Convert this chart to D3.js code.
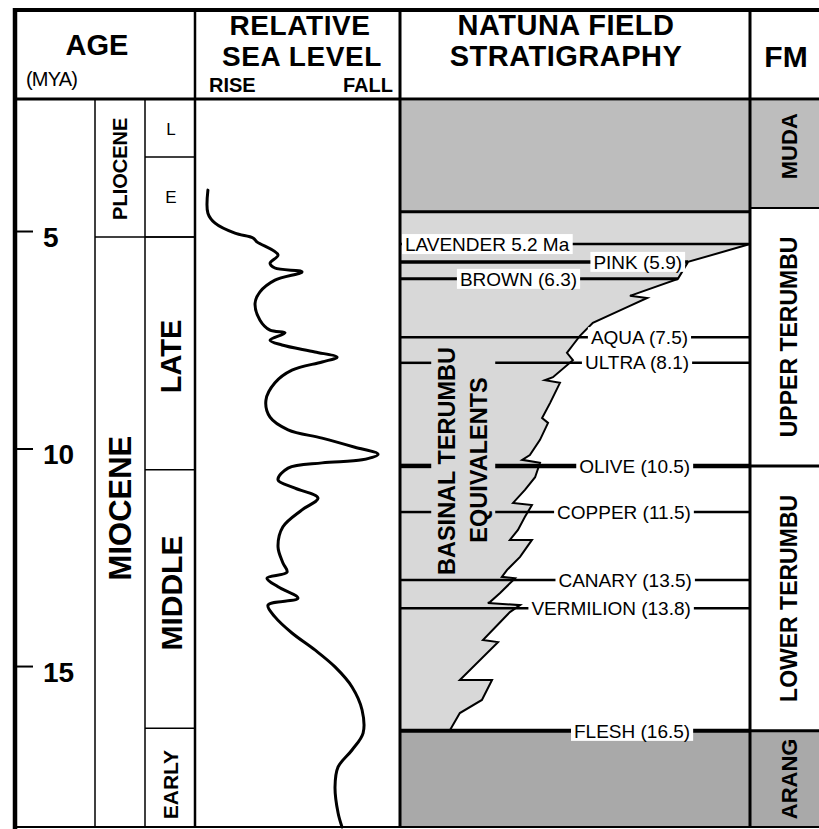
<!DOCTYPE html>
<html>
<head>
<meta charset="utf-8">
<script src="https://cdn.jsdelivr.net/npm/d3@7"></script>
<style>
  body { margin: 0; background: #fff; }
  svg { display: block; font-family: "Liberation Sans", Arial, Helvetica, sans-serif; }
</style>
</head>
<body>
<div id="chart"></div>
<script>
// Age scale (Ma)
var ageTicks = [5, 10, 15];
var ageTop = 2.0, ageBase = 18.7;

var epochNames = ["PLIOCENE", "MIOCENE"];
var epochTop = [2.0, 5.14];
var epochBase = [5.14, 18.7];

var subNames = ["L", "E", "LATE", "MIDDLE", "EARLY"];
var subTop = [2.0, 3.30, 5.14, 10.49, 16.43];
var subBase = [3.30, 5.14, 10.49, 16.43, 18.7];

// Relative sea level curve: age (Ma) and level (0 = rise side, 100 = fall side)
var seaAge = [4.06, 4.59, 4.82, 5.05, 5.16, 5.25, 5.55, 5.74, 5.85, 5.94,
              6.13, 6.40, 6.66, 7.05, 7.28, 7.34, 7.51, 7.62, 7.78, 7.90,
              8.01, 8.20, 8.49, 8.89, 9.28, 9.57, 9.76, 9.97, 10.13, 10.26,
              10.33, 10.45, 10.72, 10.91, 11.14, 11.41, 11.80, 12.26, 12.63, 12.84,
              12.98, 13.18, 13.44, 13.60, 13.87, 14.24, 14.63, 15.02, 15.48, 16.01,
              16.54, 16.93, 17.32, 17.78, 18.38, 18.70];
var seaLevel = [6.3, 6.3, 9.8, 19.5, 28.3, 30.2, 40.5, 36.6, 39.0, 52.2,
                39.0, 31.7, 29.3, 31.7, 36.6, 43.9, 36.6, 42.4, 58.5, 69.3,
                62.0, 47.3, 39.0, 34.6, 36.6, 45.4, 62.0, 78.0, 89.3, 81.5,
                62.0, 45.4, 40.5, 48.8, 60.0, 52.2, 42.9, 40.5, 42.9, 44.9,
                35.1, 40.5, 50.2, 35.6, 39.0, 47.3, 58.5, 68.3, 76.6, 81.5,
                82.0, 76.6, 69.8, 68.3, 69.8, 71.7];

// Natuna field horizons
var horizonNames = ["LAVENDER 5.2 Ma", "PINK (5.9)", "BROWN (6.3)", "AQUA (7.5)", "ULTRA (8.1)",
                    "OLIVE (10.5)", "COPPER (11.5)", "CANARY (13.5)", "VERMILION (13.8)", "FLESH (16.5)"];
var horizonAge = [5.30, 5.71, 6.10, 7.44, 8.03, 10.40, 11.46, 13.02, 13.67, 16.49];
var horizonReach = ["full", "facies", "facies", "full", "full", "full", "full", "full", "full", "full"];

// Facies boundary (basinal equivalents | platform): age and position across the column (0..1)
var faciesAge = [5.30, 5.71, 6.10, 6.49, 6.54, 6.75, 7.11, 7.41, 7.62, 7.80,
                 7.97, 8.36, 8.43, 8.49, 8.95, 9.30, 9.41, 9.80, 10.15, 10.26,
                 10.33, 10.66, 10.95, 11.25, 11.30, 11.57, 11.87, 12.10, 12.10, 12.49,
                 12.79, 12.95, 12.98, 13.32, 13.53, 13.55, 13.60, 13.76, 14.40, 14.45,
                 15.32, 15.32, 15.78, 16.08, 16.47];
var faciesPos = [1.000, 0.823, 0.794, 0.657, 0.706, 0.649, 0.551, 0.514, 0.494, 0.477,
                 0.494, 0.437, 0.414, 0.457, 0.429, 0.406, 0.423, 0.400, 0.371, 0.349,
                 0.400, 0.386, 0.357, 0.323, 0.377, 0.357, 0.337, 0.314, 0.377, 0.343,
                 0.306, 0.291, 0.329, 0.286, 0.257, 0.251, 0.343, 0.314, 0.237, 0.280,
                 0.171, 0.263, 0.234, 0.171, 0.143];
var stratMudaBase = 4.56;

// Formations
var fmNames = ["MUDA", "UPPER TERUMBU", "LOWER TERUMBU", "ARANG"];
var fmTop = [2.0, 4.47, 10.40, 16.49];
var fmBase = [4.47, 10.40, 16.49, 18.7];

// ---------- layout ----------
var W = 819, H = 829;
var xLeft = 15, xEpoch = 95, xSub = 145, xSea = 195, xStratL = 400, xFm = 750, xRight = 819;
var yTop = 10, yHead = 99, yBottom = 827;
var mudaGrey = "#bdbdbd", basinGrey = "#d8d8d8", arangGrey = "#a9a9a9";

var svg = d3.select("#chart").append("svg")
  .attr("width", W)
  .attr("height", H);

var y = d3.scaleLinear().domain([ageTop, ageBase]).range([100.5, 827]);
var xs = d3.scaleLinear().domain([0, 100]).range([xSea, xStratL]);
var xst = d3.scaleLinear().domain([0, 1]).range([xStratL, xFm]);

var shadeLayer = svg.append("g");
var lineLayer = svg.append("g");
var faciesLayer = svg.append("g");
var textLayer = svg.append("g");
var labelLayer = svg.append("g");
var gridLayer = svg.append("g");
var curveLayer = svg.append("g");
var headLayer = svg.append("g");

// ---------- stratigraphy shading ----------
shadeLayer.append("rect")
  .attr("x", xst(0)).attr("y", y(ageTop))
  .attr("width", xst(1) - xst(0)).attr("height", y(stratMudaBase) - y(ageTop))
  .attr("fill", mudaGrey);

var faciesPts = faciesAge.map(function(a, i) { return [xst(faciesPos[i]), y(a)]; });
var poly = [[xst(0), y(stratMudaBase)], [xst(1), y(stratMudaBase)]]
  .concat(faciesPts)
  .concat([[xst(0), y(faciesAge[faciesAge.length - 1])]]);
shadeLayer.append("path")
  .attr("d", d3.line()(poly) + "Z")
  .attr("fill", basinGrey);

shadeLayer.append("rect")
  .attr("x", xst(0)).attr("y", y(fmTop[3]))
  .attr("width", xst(1) - xst(0)).attr("height", y(ageBase) - y(fmTop[3]))
  .attr("fill", arangGrey);

// FM column shading
var fmFill = [mudaGrey, "none", "none", arangGrey];
fmNames.forEach(function(n, i) {
  shadeLayer.append("rect")
    .attr("x", xFm).attr("y", y(fmTop[i]))
    .attr("width", xRight - xFm).attr("height", y(fmBase[i]) - y(fmTop[i]))
    .attr("fill", fmFill[i]);
});

// ---------- basinal text ----------
var basinText = textLayer.append("g")
  .attr("font-weight", "bold")
  .attr("font-size", "23.5px")
  .attr("text-anchor", "middle");
basinText.append("text")
  .attr("transform", "translate(447," + 461 + ") rotate(-90)")
  .attr("dy", "0.35em")
  .text("BASINAL TERUMBU");
basinText.append("text")
  .attr("transform", "translate(479," + 460 + ") rotate(-90)")
  .attr("dy", "0.35em")
  .text("EQUIVALENTS");
var tb = basinText.node().getBBox();
var gapX0 = tb.x - 3, gapX1 = tb.x + tb.width + 3;

// ---------- horizon lines ----------
function faciesX(age) {
  for (var i = 0; i < faciesAge.length - 1; i++) {
    var a0 = faciesAge[i], a1 = faciesAge[i + 1];
    if (age >= a0 && age <= a1) {
      var t = a1 === a0 ? 0 : (age - a0) / (a1 - a0);
      return xst(faciesPos[i] + t * (faciesPos[i + 1] - faciesPos[i]));
    }
  }
  return xst(1);
}

var horizonWidth = [2.5, 3.5, 3, 2.5, 2.5, 4.5, 2.5, 2.5, 2.5, 4];
horizonNames.forEach(function(n, i) {
  var yy = y(horizonAge[i]);
  var x0 = xst(0);
  var x1 = horizonReach[i] === "full" ? xst(1) : faciesX(horizonAge[i]);
  var segs = [[x0, x1]];
  if (yy > tb.y + 3 && yy < tb.y + tb.height - 3) segs = [[x0, gapX0], [gapX1, x1]];
  segs.forEach(function(s) {
    lineLayer.append("line")
      .attr("x1", s[0]).attr("x2", s[1])
      .attr("y1", yy).attr("y2", yy)
      .attr("stroke", "#000")
      .attr("stroke-width", horizonWidth[i]);
  });
});

// top of basinal unit
lineLayer.append("line")
  .attr("x1", xst(0)).attr("x2", xst(1))
  .attr("y1", y(stratMudaBase)).attr("y2", y(stratMudaBase))
  .attr("stroke", "#000").attr("stroke-width", 3);

// facies boundary
faciesLayer.append("path")
  .attr("d", d3.line()(faciesPts))
  .attr("fill", "none")
  .attr("stroke", "#000")
  .attr("stroke-width", 2)
  .attr("stroke-linejoin", "miter");

// ---------- horizon labels ----------
var labelPlace = [["start", 0.014], ["end", 0.806], ["end", 0.506], ["end", 0.823], ["end", 0.826],
                  ["end", 0.829], ["end", 0.831], ["end", 0.834], ["end", 0.831], ["end", 0.829]];
horizonNames.forEach(function(n, i) {
  var yy = y(horizonAge[i]);
  var g = labelLayer.append("g");
  var rect = g.append("rect").attr("fill", "#fff");
  var t = g.append("text")
    .attr("x", xst(labelPlace[i][1]))
    .attr("y", yy)
    .attr("dy", "0.35em")
    .attr("text-anchor", labelPlace[i][0])
    .attr("font-size", "19px")
    .text(n);
  var b = t.node().getBBox();
  rect.attr("x", b.x - 3).attr("width", b.width + 6)
    .attr("y", yy - 10).attr("height", 20);
});

// ---------- grid and borders ----------
function hline(x1, x2, yy, w) {
  gridLayer.append("line").attr("x1", x1).attr("x2", x2).attr("y1", yy).attr("y2", yy)
    .attr("stroke", "#000").attr("stroke-width", w);
}
function vline(x, y1, y2, w) {
  gridLayer.append("line").attr("x1", x).attr("x2", x).attr("y1", y1).attr("y2", y2)
    .attr("stroke", "#000").attr("stroke-width", w);
}
vline(xEpoch, yHead, yBottom, 1.5);
vline(xSub, yHead, yBottom, 1.5);
vline(xSea, 8, yBottom, 2.5);
vline(xStratL, 8, yBottom, 3);
vline(xFm, 8, yBottom, 3);
vline(xLeft, 8, H, 4.5);
hline(13, xRight, yTop, 4);
hline(13, xRight, yHead, 3);
hline(13, xRight, yBottom, 2);

// epoch and sub-epoch boundaries
epochNames.forEach(function(n, i) {
  if (i > 0) hline(xEpoch, xSea, y(epochTop[i]), 1.5);
});
subNames.forEach(function(n, i) {
  if (i > 0) hline(xSub, xSea, y(subTop[i]), 1.5);
});
// formation boundaries
var fmLineW = [2, 2, 3, 3];
fmNames.forEach(function(n, i) {
  if (i > 0) hline(xFm, xRight, y(fmTop[i]), fmLineW[i]);
});

// age axis
var axis = gridLayer.append("g")
  .attr("transform", "translate(" + (xLeft + 2) + ",0)")
  .call(d3.axisRight(y).tickValues(ageTicks).tickSize(16).tickPadding(10));
axis.select(".domain").remove();
axis.selectAll(".tick line").attr("stroke", "#000").attr("stroke-width", 2);
axis.selectAll(".tick text")
  .attr("font-family", "Liberation Sans, Arial, sans-serif")
  .attr("font-size", "28px")
  .attr("font-weight", "bold")
  .attr("fill", "#000")
  .attr("dy", "0.55em");

// epoch labels
var epochSize = [20, 31], epochShift = [0, -24];
epochNames.forEach(function(n, i) {
  var cy = (y(epochTop[i]) + y(epochBase[i])) / 2 + epochShift[i];
  gridLayer.append("text")
    .attr("transform", "translate(" + 120 + "," + cy + ") rotate(-90)")
    .attr("dy", "0.35em")
    .attr("text-anchor", "middle")
    .attr("font-weight", "bold")
    .attr("font-size", epochSize[i] + "px")
    .text(n);
});
var subSize = [17, 17, 29, 30, 21], subShift = [0, 0, 3, -6, 7];
subNames.forEach(function(n, i) {
  var cy = (y(subTop[i]) + y(subBase[i])) / 2 + subShift[i];
  var t = gridLayer.append("text")
    .attr("text-anchor", "middle")
    .attr("dy", "0.35em")
    .attr("font-size", subSize[i] + "px")
    .text(n);
  if (i < 2) {
    t.attr("x", 171).attr("y", cy);
  } else {
    t.attr("transform", "translate(" + 171 + "," + cy + ") rotate(-90)")
      .attr("font-weight", "bold");
  }
});

// formation labels
var fmSize = [22, 23, 23, 22], fmShift = [-8, 0, 0, 0];
fmNames.forEach(function(n, i) {
  var cy = (y(fmTop[i]) + y(fmBase[i])) / 2 + fmShift[i];
  gridLayer.append("text")
    .attr("transform", "translate(" + 789 + "," + cy + ") rotate(-90)")
    .attr("dy", "0.35em")
    .attr("text-anchor", "middle")
    .attr("font-weight", "bold")
    .attr("font-size", fmSize[i] + "px")
    .text(n);
});

// ---------- sea level curve ----------
var seaPts = seaAge.map(function(a, i) { return [xs(seaLevel[i]), y(a)]; });
curveLayer.append("path")
  .attr("d", d3.line().curve(d3.curveCatmullRom.alpha(0.5))(seaPts))
  .attr("fill", "none")
  .attr("stroke", "#000")
  .attr("stroke-width", 3)
  .attr("stroke-linecap", "round");

// ---------- headers ----------
function head(txt, x, yy, size, anchor, weight) {
  return headLayer.append("text")
    .attr("x", x).attr("y", yy)
    .attr("text-anchor", anchor)
    .attr("font-size", size + "px")
    .attr("font-weight", weight)
    .text(txt);
}
head("AGE", 97, 55, 29, "middle", "bold");
head("(MYA)", 26, 86, 20, "start", "normal").attr("letter-spacing", "-0.8");
head("RELATIVE", 300, 35, 28, "middle", "bold").attr("letter-spacing", "0.6");
head("SEA LEVEL", 302, 66, 28, "middle", "bold").attr("letter-spacing", "0.6");
head("RISE", 209, 92, 20, "start", "bold");
head("FALL", 393, 92, 20, "end", "bold");
head("NATUNA FIELD", 566, 35, 29, "middle", "bold").attr("letter-spacing", "0.5");
head("STRATIGRAPHY", 566, 66, 29, "middle", "bold").attr("letter-spacing", "0.5");
head("FM", 786, 67, 30, "middle", "bold");
</script>
</body>
</html>
